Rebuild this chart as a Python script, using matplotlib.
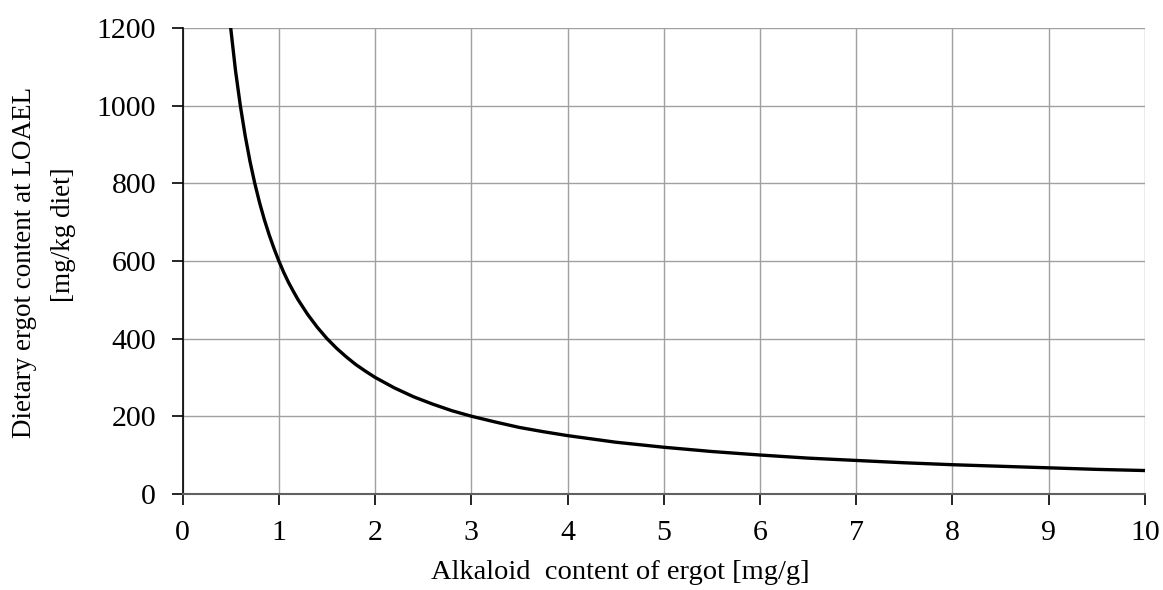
import matplotlib.pyplot as plt

plt.rcParams['font.family'] = ['Liberation Serif', 'DejaVu Serif']

# values
alkaloid = [0.5, 0.55, 0.6, 0.65, 0.7, 0.75, 0.8, 0.85, 0.9, 0.95, 1.0, 1.05, 1.1,
            1.15, 1.2, 1.3, 1.4, 1.5, 1.6, 1.7, 1.8, 1.9, 2.0, 2.2, 2.4, 2.6, 2.8,
            3.0, 3.25, 3.5, 3.75, 4.0, 4.5, 5.0, 5.5, 6.0, 6.5,
            7.0, 7.5, 8.0, 8.5, 9.0, 9.5, 10.0]
ergot = [1200, 1090, 1000, 923, 857, 800, 750, 706, 667, 632, 600, 571, 545,
         522, 500, 462, 429, 400, 375, 353, 333, 316, 300, 273, 250, 231, 214,
         200, 185, 171, 160, 150, 133, 120, 109, 100, 92,
         86, 80, 75, 71, 67, 63, 60]

fig = plt.figure(figsize=(11.63, 5.90), dpi=100)
ax = fig.add_axes([0.157, 0.163, 0.8275, 0.7895])

ax.plot(alkaloid, ergot, color='black', linewidth=2.4)

ax.set_xlim(0, 10)
ax.set_ylim(0, 1200)
ax.set_xticks(range(0, 11))
ax.set_yticks(range(0, 1201, 200))
ax.grid(True, color='#a0a0a0', linewidth=1)
ax.set_axisbelow(True)

for s in ['top', 'right']:
    ax.spines[s].set_visible(False)
ax.spines['left'].set_color('black')
ax.spines['bottom'].set_color('#606060')
ax.spines['left'].set_linewidth(1.2)
ax.spines['bottom'].set_linewidth(1.5)
ax.tick_params(axis='both', direction='out', length=8, width=1.2, labelsize=21.5, pad=11)

# axis titles placed like the original
fig.text(620 / 1163, 1 - 560 / 590, 'Alkaloid  content of ergot [mg/g]',
         fontsize=20.5, ha='center', va='top')
fig.text(25 / 1163, 1 - 262 / 590, 'Dietary ergot content at LOAEL',
         fontsize=19.5, rotation=90, ha='center', va='center')
fig.text(64 / 1163, 1 - 235 / 590, '[mg/kg diet]',
         fontsize=19.5, rotation=90, ha='center', va='center')

fig.savefig('out.png', dpi=100)
